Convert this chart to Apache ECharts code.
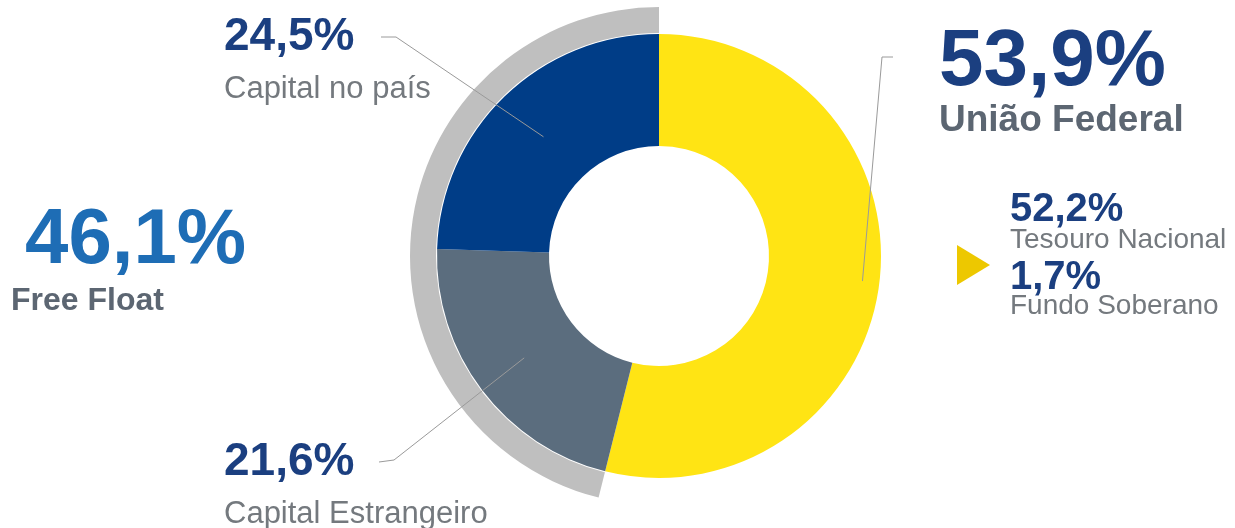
<!DOCTYPE html>
<html><head><meta charset="utf-8">
<script src="https://cdn.jsdelivr.net/npm/echarts@6/dist/echarts.min.js"></script>
<style>html,body{margin:0;padding:0;background:#fff}#c{width:1235px;height:528px}</style>
</head><body><div id="c"></div>
<script>
// ---- data ----
const sliceNames  = ['União Federal', 'Capital Estrangeiro', 'Capital no país'];
const sliceValues = [53.9, 21.6, 24.5];
const sliceLabels = ['53,9%', '21,6%', '24,5%'];
const freeFloatName  = 'Free Float';
const freeFloatValue = 46.1;
const freeFloatLabel = '46,1%';
const breakdownNames  = ['Tesouro Nacional', 'Fundo Soberano'];
const breakdownLabels = ['52,2%', '1,7%'];

// ---- layout / style ----
const FONT = 'Liberation Sans, Arial, sans-serif';
const CX = 659, CY = 256;
const R = { inner: 110, outer: 222, ringIn: 223, ringOut: 249 };
const sliceColors = ['#FFE414', '#5B6D7E', '#003D87'];
const ringColor = '#BFBFBF';
const labelPos = [
  { x: 939, y: 22.5, r: 205, elbow: [882, 57], end: [893, 57] },
  { x: 224, y: 439, r: 169, elbow: [394, 460], end: [379, 462] },
  { x: 224, y: 14.5, r: 166, elbow: [396, 37], end: [381, 37] }
];
const freeFloatPos = { x: 11, y: 202 };
const breakdownPos = [ { x: 1010, y: 190 }, { x: 1010, y: 257.5 } ];

function midPoint(values, i, r) {
  const total = values.reduce((a, b) => a + b, 0);
  let cum = 0;
  for (let k = 0; k < i; k++) cum += values[k];
  const a = (90 - 360 * (cum + values[i] / 2) / total) * Math.PI / 180;
  return [CX + r * Math.cos(a), CY - r * Math.sin(a)];
}

const navy = '#1B3F80';
const subGray = '#74797E';
const boldGray = '#5C6672';

const baseData = sliceNames.map((n, i) => ({ name: n, value: sliceValues[i], itemStyle: { color: sliceColors[i] } }));

const chart = echarts.init(document.getElementById('c'), null, { renderer: 'canvas' });
chart.setOption({
  animation: false,
  backgroundColor: '#ffffff',
  series: [
    {
      type: 'pie',
      z: 2,
      center: [CX, CY],
      radius: [R.inner, R.outer],
      startAngle: 90,
      clockwise: true,
      silent: true,
      data: baseData,
      label: { show: false },
      labelLine: { show: false }
    },
    {
      type: 'pie',
      z: 2,
      center: [CX, CY],
      radius: [R.ringIn, R.ringOut],
      startAngle: 90,
      clockwise: true,
      silent: true,
      avoidLabelOverlap: false,
      data: [
        { name: sliceNames[0], value: 100 - freeFloatValue, itemStyle: { color: 'rgba(0,0,0,0)' }, label: { show: false }, labelLine: { show: false } },
        { name: freeFloatName, value: freeFloatValue, itemStyle: { color: ringColor } }
      ],
      label: {
        show: true,
        position: 'outside',
        formatter: () => '{v|' + freeFloatLabel + '}\n{n|' + freeFloatName + '}',
        rich: {
          v: { fontFamily: FONT, fontSize: 78, fontWeight: 'bold', color: '#1E6DB5', lineHeight: 78, padding: [0, 0, 0, 14] },
          n: { fontFamily: FONT, fontSize: 32, fontWeight: 'bold', color: boldGray, lineHeight: 43 }
        }
      },
      labelLine: { show: false },
      labelLayout: function () {
        return { x: freeFloatPos.x, y: freeFloatPos.y, align: 'left', verticalAlign: 'top' };
      }
    },
    {
      // overlay carrying the slice labels so the leader lines sit on top of the ring
      type: 'pie',
      z: 5,
      center: [CX, CY],
      radius: [R.inner, R.outer],
      startAngle: 90,
      clockwise: true,
      silent: true,
      avoidLabelOverlap: false,
      data: sliceNames.map((n, i) => ({ name: n, value: sliceValues[i] })),
      itemStyle: { color: 'rgba(0,0,0,0)' },
      label: {
        show: true,
        position: 'outside',
        fontFamily: FONT,
        formatter: p => p.dataIndex === 0
          ? '{V|' + sliceLabels[0] + '}\n{N|' + sliceNames[0] + '}'
          : '{v|' + sliceLabels[p.dataIndex] + '}\n{n|' + sliceNames[p.dataIndex] + '}',
        rich: {
          V: { fontFamily: FONT, fontSize: 80, fontWeight: 'bold', color: navy, lineHeight: 80 },
          N: { fontFamily: FONT, fontSize: 37, fontWeight: 'bold', color: boldGray, lineHeight: 36 },
          v: { fontFamily: FONT, fontSize: 46, fontWeight: 'bold', color: navy, lineHeight: 46 },
          n: { fontFamily: FONT, fontSize: 31, color: subGray, lineHeight: 58 }
        }
      },
      labelLine: { show: true, smooth: false, lineStyle: { color: '#9A9A9A', width: 1 } },
      labelLayout: function (p) {
        const L = labelPos[p.dataIndex];
        return {
          x: L.x, y: L.y, align: 'left', verticalAlign: 'top',
          labelLinePoints: [midPoint(sliceValues, p.dataIndex, L.r), L.elbow, L.end]
        };
      }
    }
  ],
  graphic: [
    {
      type: 'polygon',
      shape: { points: [[957, 245], [957, 285], [990, 265]] },
      style: { fill: '#EDC800' }
    }
  ].concat(breakdownNames.map((n, i) => ({
    type: 'text',
    x: breakdownPos[i].x,
    y: breakdownPos[i].y,
    style: {
      text: '{v|' + breakdownLabels[i] + '}\n{n|' + n + '}',
      rich: {
        v: { fontFamily: FONT, fontSize: 40, fontWeight: 'bold', fill: navy, lineHeight: 40 },
        n: { fontFamily: FONT, fontSize: 28, fill: subGray, lineHeight: i === 0 ? 20 : 18 }
      }
    }
  })))
});
</script>
</body></html>
